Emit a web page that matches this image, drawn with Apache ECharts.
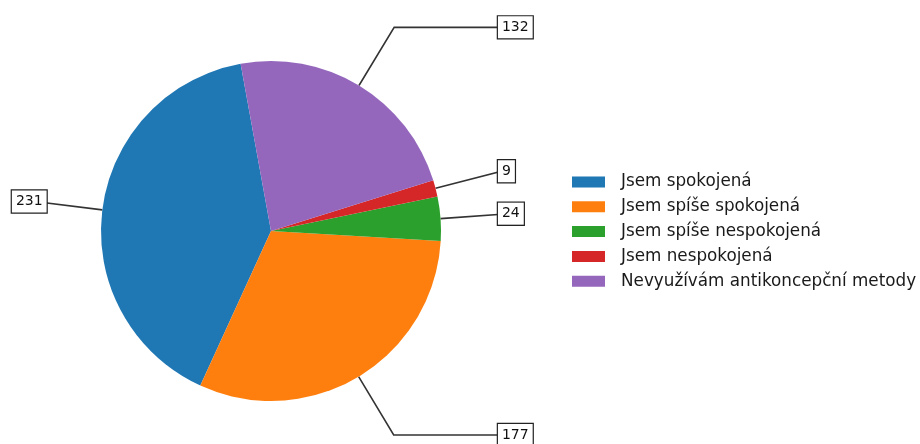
<!DOCTYPE html>
<html>
<head>
<meta charset="utf-8">
<script src="https://cdn.jsdelivr.net/npm/echarts@6/dist/echarts.min.js"></script>
<style>
  html, body { margin: 0; padding: 0; background: #fff; }
  #chart { width: 920px; height: 444px; }
</style>
</head>
<body>
<div id="chart"></div>
<script>
// data
const categories = [
  'Jsem spokojená',
  'Jsem spíše spokojená',
  'Jsem spíše nespokojená',
  'Jsem nespokojená',
  'Nevyužívám antikoncepční metody'
];
const counts = [231, 177, 24, 9, 132];
const colors = ['#1f77b4', '#ff7f0e', '#2ca02c', '#d62728', '#9467bd'];

// pie geometry
const CX = 271, CY = 231, R = 170;
const START = 100.3;

const total = counts.reduce((a, b) => a + b, 0);
// mid angle of each slice (degrees, counterclockwise)
const midAngles = [];
let acc = 0;
counts.forEach(v => {
  midAngles.push(START + (acc + v / 2) / total * 360);
  acc += v;
});

const chart = echarts.init(document.getElementById('chart'));

chart.setOption({
  animation: false,
  color: colors,
  legend: {
    orient: 'vertical',
    left: 572,
    top: 173.5,
    padding: 0,
    icon: 'rect',
    itemWidth: 33,
    itemHeight: 11,
    itemGap: 7.8,
    textStyle: {
      fontFamily: 'DejaVu Sans',
      fontSize: 16.8,
      lineHeight: 17,
      color: '#1a1a1a',
      padding: [0, 0, 0, 11]
    },
    data: categories
  },
  series: [{
    type: 'pie',
    center: [CX, CY],
    radius: R,
    startAngle: START,
    clockwise: false,
    avoidLabelOverlap: false,
    emphasis: { disabled: true },
    data: categories.map((name, i) => ({ name: name, value: counts[i] })),
    label: {
      show: true,
      position: 'outside',
      formatter: '{c}',
      fontFamily: 'DejaVu Sans',
      fontSize: 14,
      lineHeight: 15,
      color: '#111',
      backgroundColor: '#fff',
      borderColor: '#222',
      borderWidth: 1.2,
      padding: [4, 4, 3, 4]
    },
    labelLine: {
      show: true,
      length: 60,
      length2: 20,
      lineStyle: { color: '#333', width: 1.6 }
    },
    // matplotlib-style annotation: radial to 1.4R, then horizontal to the box
    labelLayout: function (params) {
      const a = midAngles[params.dataIndex] * Math.PI / 180;
      const c = Math.cos(a), s = Math.sin(a);
      const sign = c >= 0 ? 1 : -1;
      const edge = [CX + R * c, CY - R * s];
      const elbow = [CX + 1.4 * R * c, CY - 1.4 * R * s];
      const tx = CX + sign * (c >= 0 ? 1.335 : 1.32) * R;
      const end = [tx, elbow[1]];
      return {
        x: tx,
        y: elbow[1],
        align: sign > 0 ? 'left' : 'right',
        verticalAlign: 'middle',
        labelLinePoints: [edge, elbow, end]
      };
    }
  }]
});
</script>
</body>
</html>
